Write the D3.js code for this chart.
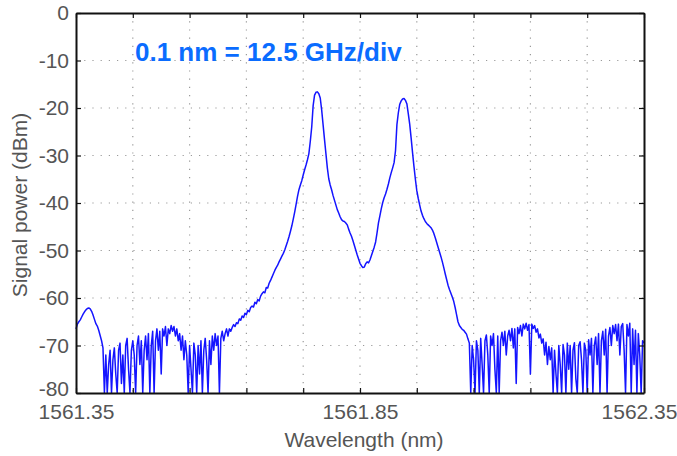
<!DOCTYPE html>
<html>
<head>
<meta charset="utf-8">
<script src="https://cdn.jsdelivr.net/npm/d3@7/dist/d3.min.js"></script>
<style>
  body { margin: 0; background: #fff; }
  svg { display: block; }
  .tick text { font-family: "Liberation Sans", Arial, sans-serif; fill: #555; }
</style>
</head>
<body>
<svg class="main"></svg>
<script>
// spectrum sampled every 0.0025 nm, in dBm (clipped at -80 by the analyser)
let lambdaStep = 0.0025;

let humpStart = 1561.35;
let humpPower = [-66.5, -65.5, -65.0, -64.6, -64.0, -63.4, -62.9, -62.5, -62.2, -62.1,
    -62.3, -62.8, -63.6, -64.5, -65.4, -65.9, -66.8, -67.9, -69.0, -70.5];

let leftNoiseStart = 1561.40;
let leftNoisePower = [-80, -72, -80, -74, -71, -80, -73, -70.5, -76, -80,
    -71, -69.5, -78, -72, -80, -70, -68.5, -75, -80, -71,
    -69, -72, -80, -70, -68, -74, -69, -80, -71, -68,
    -73, -67.5, -80, -70, -67, -80, -69, -66.5, -71, -67,
    -76, -66.5, -68, -66, -70, -66.5, -67.5, -65.8, -67, -66,
    -68, -66.5, -69, -67.5, -71, -68, -73, -69, -72, -80,
    -70, -75, -80, -69.5, -72, -80, -70, -76, -69, -80,
    -71, -68.5, -73, -80, -69, -74, -68, -71, -67.5, -70,
    -68, -80, -68.5, -67, -69, -67.5, -66.5, -68, -66.5, -67];

let peaksStart = 1561.625;
let peaksPower = [-66.2, -65.6, -66.0, -65.2, -65.4, -64.4, -64.7, -63.8, -64.1, -63.2,
    -63.5, -62.6, -62.9, -62.0, -61.7, -61.9, -60.9, -61.2, -60.3, -60.6,
    -59.6, -59.1, -58.7, -58.9, -57.8, -57.9, -56.9, -56.3, -55.6, -54.9,
    -54.2, -53.6, -53.1, -52.4, -51.8, -51.2, -50.6, -49.9, -49.0, -48.1,
    -47.1, -46.0, -44.8, -43.4, -41.9, -40.3, -38.6, -37.2, -36.2, -35.3,
    -34.1, -33.0, -32.0, -30.9, -29.6, -27.0, -24.0, -19.5, -17.3, -16.7,
    -16.6, -17.0, -17.9, -20.4, -23.5, -26.6, -29.6, -32.6, -34.9, -36.2,
    -37.2, -38.4, -39.4, -40.4, -41.4, -42.1, -42.9, -43.5, -43.8, -43.9,
    -44.2, -44.6, -45.5, -46.3, -47.0, -47.9, -48.9, -49.9, -50.9, -51.8,
    -52.7, -53.2, -53.6, -53.5, -52.8, -52.4, -52.6, -52.0, -51.1, -50.2,
    -49.3, -48.2, -46.3, -44.2, -42.7, -41.2, -39.9, -38.9, -38.1, -37.1,
    -36.0, -34.7, -33.6, -32.6, -31.5, -29.0, -23.5, -21.0, -19.2, -18.5,
    -18.1, -18.0, -18.4, -19.1, -21.2, -23.4, -26.3, -29.4, -32.3, -35.0,
    -37.4, -39.0, -40.4, -41.7, -42.6, -43.3, -43.9, -44.3, -44.6, -44.9,
    -45.2, -45.7, -46.4, -47.3, -48.3, -49.3, -50.3, -51.3, -52.4, -53.6,
    -54.9, -56.1, -57.3, -58.2, -59.0, -59.8, -60.7, -62.0, -63.5, -65.0,
    -65.8, -66.2, -66.6, -66.8, -67.2, -67.6];

let rightNoiseStart = 1562.04;
let rightNoisePower = [-68.6, -69.5, -80, -70, -73, -80, -69, -71, -80, -68.5,
    -74, -80, -69, -67.8, -72, -80, -68, -70, -67.5, -75,
    -80, -68, -80, -69, -67.2, -70, -67, -72, -68, -66.8,
    -69, -66.4, -70.5, -66.5, -78, -66.2, -67.5, -65.8, -68, -65.5,
    -66.5, -65.3, -66.8, -65.6, -76, -65.5, -66.4, -65.8, -67.2, -66.5,
    -68.4, -67.6, -69.5, -68.6, -72, -69.3, -74, -70.2, -73, -70.5,
    -80, -71, -76, -80, -70, -74, -80, -69.8, -72, -80,
    -69.5, -75, -70, -80, -71, -69.4, -77, -80, -70, -69.2,
    -73, -80, -69.5, -71, -80, -68.8, -72, -68.5, -80, -70,
    -68.2, -74, -67.5, -80, -69, -67, -72, -66.6, -80, -68,
    -66.2, -70, -65.8, -67.5, -65.6, -69, -65.5, -72, -66, -65.4,
    -71, -80, -65.6, -68, -65.3, -80, -66.5, -74, -66.8, -80,
    -67.5, -72, -80, -69, -69.5];

let xTicks = [1561.35, 1561.45, 1561.55, 1561.65, 1561.75, 1561.85, 1561.95, 1562.05, 1562.15, 1562.25, 1562.35];
let xLabels = [1561.35, 1561.85, 1562.35];
let yTicks = [0, -10, -20, -30, -40, -50, -60, -70, -80];
let noteText = '0.1 nm = 12.5 GHz/div';

let w = 677, h = 456;
let plotLeft = 76, plotRight = 644, plotTop = 13, plotBottom = 393;

let svg = d3.select('.main')
    .attr('width', w)
    .attr('height', h)
    .style('background-color', '#fff');

let x = d3.scaleLinear().domain([1561.35, 1562.35]).range([plotLeft, plotRight]);
let y = d3.scaleLinear().domain([-80, 0]).range([plotBottom, plotTop]);

let toPoints = (start, arr) => arr.map((p, i) => ({ wl: start + i * lambdaStep, p: p }));
let spectrum = [].concat(
    toPoints(humpStart, humpPower),
    toPoints(leftNoiseStart, leftNoisePower),
    toPoints(peaksStart, peaksPower),
    toPoints(rightNoiseStart, rightNoisePower)
);

// dotted grid
let grid = svg.append('g')
    .attr('stroke', '#9a9a9a')
    .attr('stroke-width', 1.2)
    .attr('stroke-dasharray', '1.2,7');
grid.selectAll('line.v')
    .data(xTicks.slice(1, -1))
    .enter().append('line')
    .attr('x1', d => x(d)).attr('x2', d => x(d))
    .attr('y1', plotTop).attr('y2', plotBottom);
grid.selectAll('line.h')
    .data(yTicks.slice(1, -1))
    .enter().append('line')
    .attr('x1', plotLeft).attr('x2', plotRight)
    .attr('y1', d => y(d)).attr('y2', d => y(d));

// spectrum trace
let line = d3.line().x(d => x(d.wl)).y(d => y(d.p));
svg.append('path')
    .datum(spectrum)
    .attr('fill', 'none')
    .attr('stroke', '#1414ff')
    .attr('stroke-width', 1.5)
    .attr('stroke-linejoin', 'round')
    .attr('d', line);

// axes, ticks pointing inward
let fmtX = d => xLabels.some(v => Math.abs(v - d) < 1e-6) ? d.toFixed(2) : '';

let xAxis = svg.append('g')
    .attr('transform', `translate(0,${plotBottom})`)
    .call(d3.axisBottom(x).tickValues(xTicks).tickFormat(fmtX).tickSize(-5).tickPadding(11).tickSizeOuter(0));
svg.append('g')
    .attr('transform', `translate(0,${plotTop})`)
    .call(d3.axisTop(x).tickValues(xTicks).tickFormat('').tickSize(-5).tickSizeOuter(0));
let yAxis = svg.append('g')
    .attr('transform', `translate(${plotLeft},0)`)
    .call(d3.axisLeft(y).tickValues(yTicks).tickFormat(d => String(d)).tickSize(-5).tickPadding(7).tickSizeOuter(0));
svg.append('g')
    .attr('transform', `translate(${plotRight},0)`)
    .call(d3.axisRight(y).tickValues(yTicks).tickFormat('').tickSize(-5).tickSizeOuter(0));

svg.selectAll('.domain').attr('stroke', '#111').attr('stroke-width', 2);
svg.selectAll('.tick line').attr('stroke', '#111').attr('stroke-width', 1.2);
svg.selectAll('.tick text').style('font-size', '21px');
// corner labels: nudge so they don't collide / clip
xAxis.selectAll('.tick text').filter(d => d === 1562.35).attr('dx', -5);
yAxis.selectAll('.tick text').filter(d => d === -80).attr('dy', '0.1em');

// axis titles
svg.append('text')
    .attr('x', (plotLeft + plotRight) / 2 + 4)
    .attr('y', 447)
    .attr('text-anchor', 'middle')
    .style('font-family', '"Liberation Sans", Arial, sans-serif')
    .style('font-size', '21px')
    .style('fill', '#555')
    .text('Wavelength (nm)');

svg.append('text')
    .attr('transform', `translate(27,${(plotTop + plotBottom) / 2 + 2}) rotate(-90)`)
    .attr('text-anchor', 'middle')
    .style('font-family', '"Liberation Sans", Arial, sans-serif')
    .style('font-size', '21px')
    .style('fill', '#555')
    .text('Signal power (dBm)');

// annotation
svg.append('text')
    .attr('x', 135)
    .attr('y', 61)
    .style('font-family', '"Liberation Sans", Arial, sans-serif')
    .style('font-size', '26px')
    .style('font-weight', 'bold')
    .style('fill', '#0a6cff')
    .text(noteText);
</script>
</body>
</html>
